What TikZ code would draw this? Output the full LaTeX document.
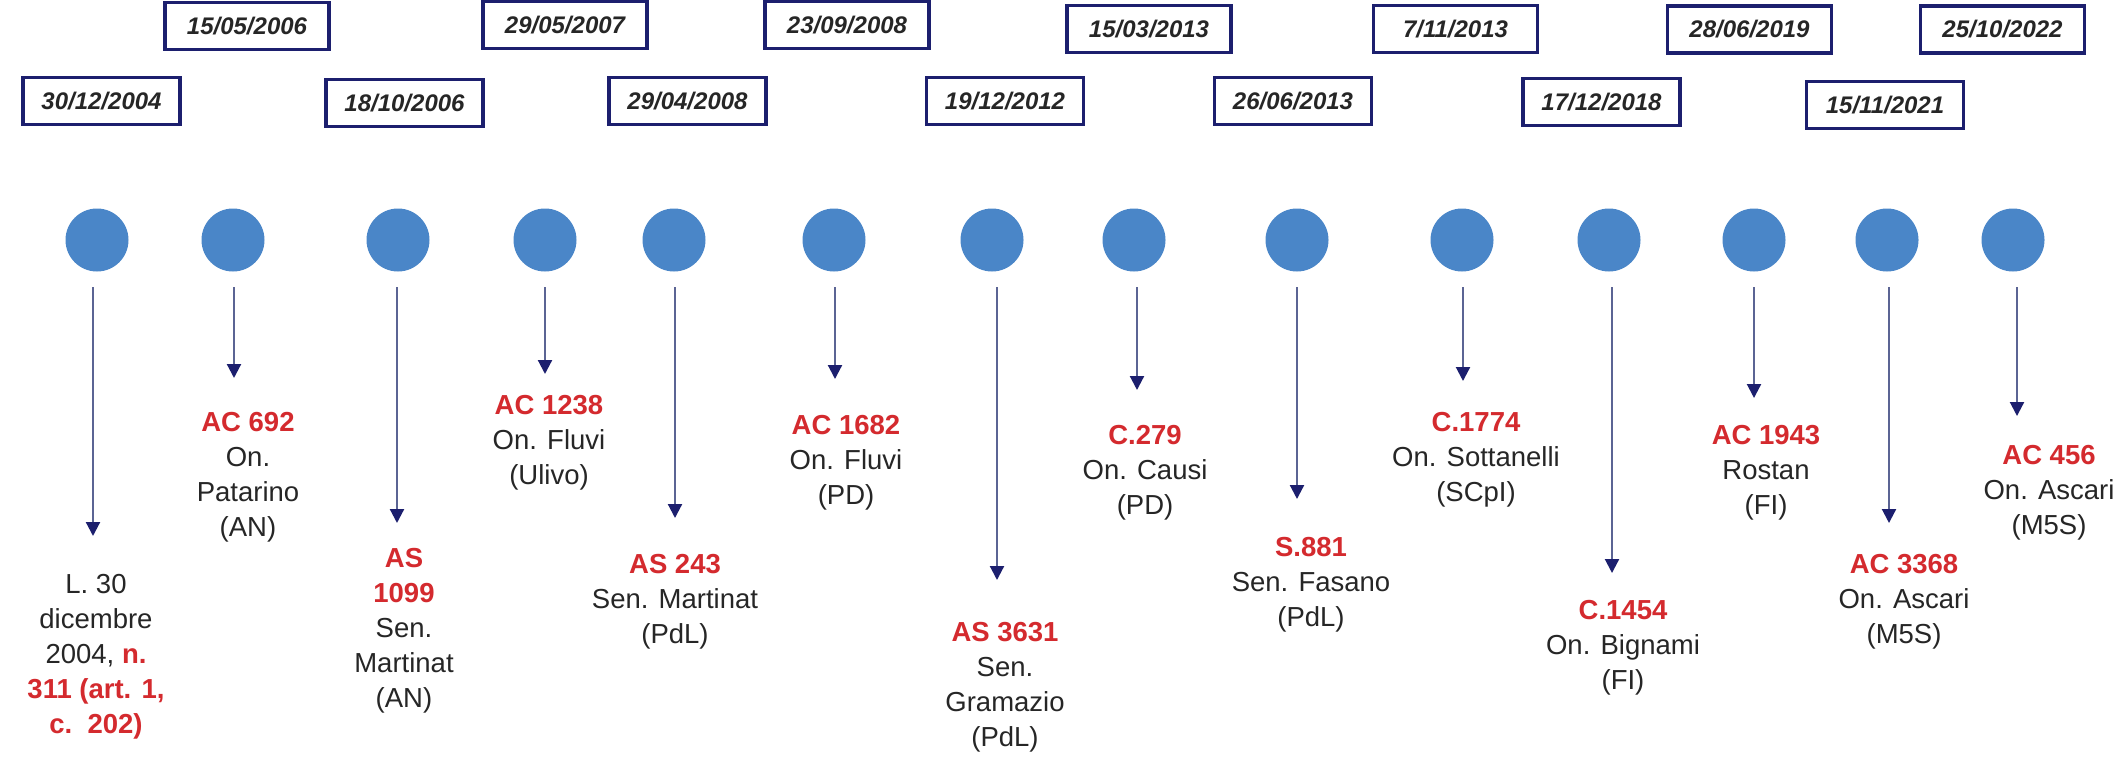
\documentclass[tikz,border=0pt]{standalone}
\usepackage{fontspec}
\setmainfont{Liberation Sans}
\usetikzlibrary{arrows.meta}
\definecolor{navy}{HTML}{1C1F6E}
\definecolor{dotblue}{HTML}{4A86C8}
\definecolor{shaft}{HTML}{5B6494}
\definecolor{labred}{HTML}{D42A2E}
\definecolor{txt}{HTML}{262626}
\newcommand\rd[1]{\textcolor{labred}{\bfseries #1}}
\begin{document}
\begin{tikzpicture}[x=1pt,y=-1pt,
 datebox/.style={draw=navy, line width=3.5pt, fill=white, minimum height=47pt, inner sep=0pt,
   font=\fontsize{24}{28}\selectfont\bfseries\itshape, text=txt},
 topbox/.style={datebox, minimum width=164pt},
 lowbox/.style={datebox, minimum width=157pt},
 dot/.style={circle, fill=dotblue, minimum size=63pt, inner sep=0pt},
 lbl/.style={align=center, anchor=north, inner sep=0pt, font=\fontsize{27.5}{35}\selectfont, text=txt},
 arr/.style={draw=shaft, line width=2.2pt, -{Triangle[length=14pt,width=14pt,color=navy,fill=navy]}}]
\fill[white] (0,0) rectangle (2122,757);
\useasboundingbox (0,0) rectangle (2122,757);

% date boxes
\node[lowbox] (d1)  at (101.5,101) {30/12/2004};
\node[topbox] (d2)  at (247,26)    {15/05/2006};
\node[lowbox] (d3)  at (404.5,103) {18/10/2006};
\node[topbox] (d4)  at (565,25)    {29/05/2007};
\node[lowbox] (d5)  at (687.5,101) {29/04/2008};
\node[topbox] (d6)  at (847,25)    {23/09/2008};
\node[lowbox] (d7)  at (1005,101)  {19/12/2012};
\node[topbox] (d8)  at (1149,29)   {15/03/2013};
\node[lowbox] (d9)  at (1293,101)  {26/06/2013};
\node[topbox] (d10) at (1455.5,29) {7/11/2013};
\node[lowbox] (d11) at (1601.5,102){17/12/2018};
\node[topbox] (d12) at (1749.5,29.5){28/06/2019};
\node[lowbox] (d13) at (1885,105)  {15/11/2021};
\node[topbox] (d14) at (2002.5,29.5){25/10/2022};

% circles
\node[dot] (c1)  at (97,240) {};
\node[dot] (c2)  at (233,240) {};
\node[dot] (c3)  at (398,240) {};
\node[dot] (c4)  at (545,240) {};
\node[dot] (c5)  at (674,240) {};
\node[dot] (c6)  at (834,240) {};
\node[dot] (c7)  at (992,240) {};
\node[dot] (c8)  at (1134,240) {};
\node[dot] (c9)  at (1297,240) {};
\node[dot] (c10) at (1462,240) {};
\node[dot] (c11) at (1609,240) {};
\node[dot] (c12) at (1754,240) {};
\node[dot] (c13) at (1887,240) {};
\node[dot] (c14) at (2013,240) {};

% labels
\node[lbl] (l1)  at (96,574)   {L. 30\\dicembre\\2004, \rd{n.}\\\rd{311 (art. 1,}\\\rd{c.\ \ 202)}};
\node[lbl] (l2)  at (248,412)  {\rd{AC 692}\\On.\\Patarino\\(AN)};
\node[lbl] (l3)  at (404,548)  {\rd{AS}\\\rd{1099}\\Sen.\\Martinat\\(AN)};
\node[lbl] (l4)  at (549,395)  {\rd{AC 1238}\\On. Fluvi\\(Ulivo)};
\node[lbl] (l5)  at (675,554)  {\rd{AS 243}\\Sen. Martinat\\(PdL)};
\node[lbl] (l6)  at (846,415)  {\rd{AC 1682}\\On. Fluvi\\(PD)};
\node[lbl] (l7)  at (1005,622) {\rd{AS 3631}\\Sen.\\Gramazio\\(PdL)};
\node[lbl] (l8)  at (1145,425) {\rd{C.279}\\On. Causi\\(PD)};
\node[lbl] (l9)  at (1311,537) {\rd{S.881}\\Sen. Fasano\\(PdL)};
\node[lbl] (l10) at (1476,412) {\rd{C.1774}\\On. Sottanelli\\(SCpI)};
\node[lbl] (l11) at (1623,600) {\rd{C.1454}\\On. Bignami\\(FI)};
\node[lbl] (l12) at (1766,425) {\rd{AC 1943}\\Rostan\\(FI)};
\node[lbl] (l13) at (1904,554) {\rd{AC 3368}\\On. Ascari\\(M5S)};
\node[lbl] (l14) at (2049,445) {\rd{AC 456}\\On. Ascari\\(M5S)};

% arrow ends
\coordinate (s1) at (93,287);   \coordinate (e1) at (93,536);
\coordinate (s2) at (234,287);  \coordinate (e2) at (234,378);
\coordinate (s3) at (397,287);  \coordinate (e3) at (397,523);
\coordinate (s4) at (545,287);  \coordinate (e4) at (545,374);
\coordinate (s5) at (675,287);  \coordinate (e5) at (675,518);
\coordinate (s6) at (835,287);  \coordinate (e6) at (835,379);
\coordinate (s7) at (997,287);  \coordinate (e7) at (997,580);
\coordinate (s8) at (1137,287); \coordinate (e8) at (1137,390);
\coordinate (s9) at (1297,287); \coordinate (e9) at (1297,499);
\coordinate (s10) at (1463,287);\coordinate (e10) at (1463,381);
\coordinate (s11) at (1612,287);\coordinate (e11) at (1612,573);
\coordinate (s12) at (1754,287);\coordinate (e12) at (1754,398);
\coordinate (s13) at (1889,287);\coordinate (e13) at (1889,523);
\coordinate (s14) at (2017,287);\coordinate (e14) at (2017,416);
\foreach \i in {1,...,14} { \draw[arr] (s\i) -- (e\i); }
\end{tikzpicture}
\end{document}
